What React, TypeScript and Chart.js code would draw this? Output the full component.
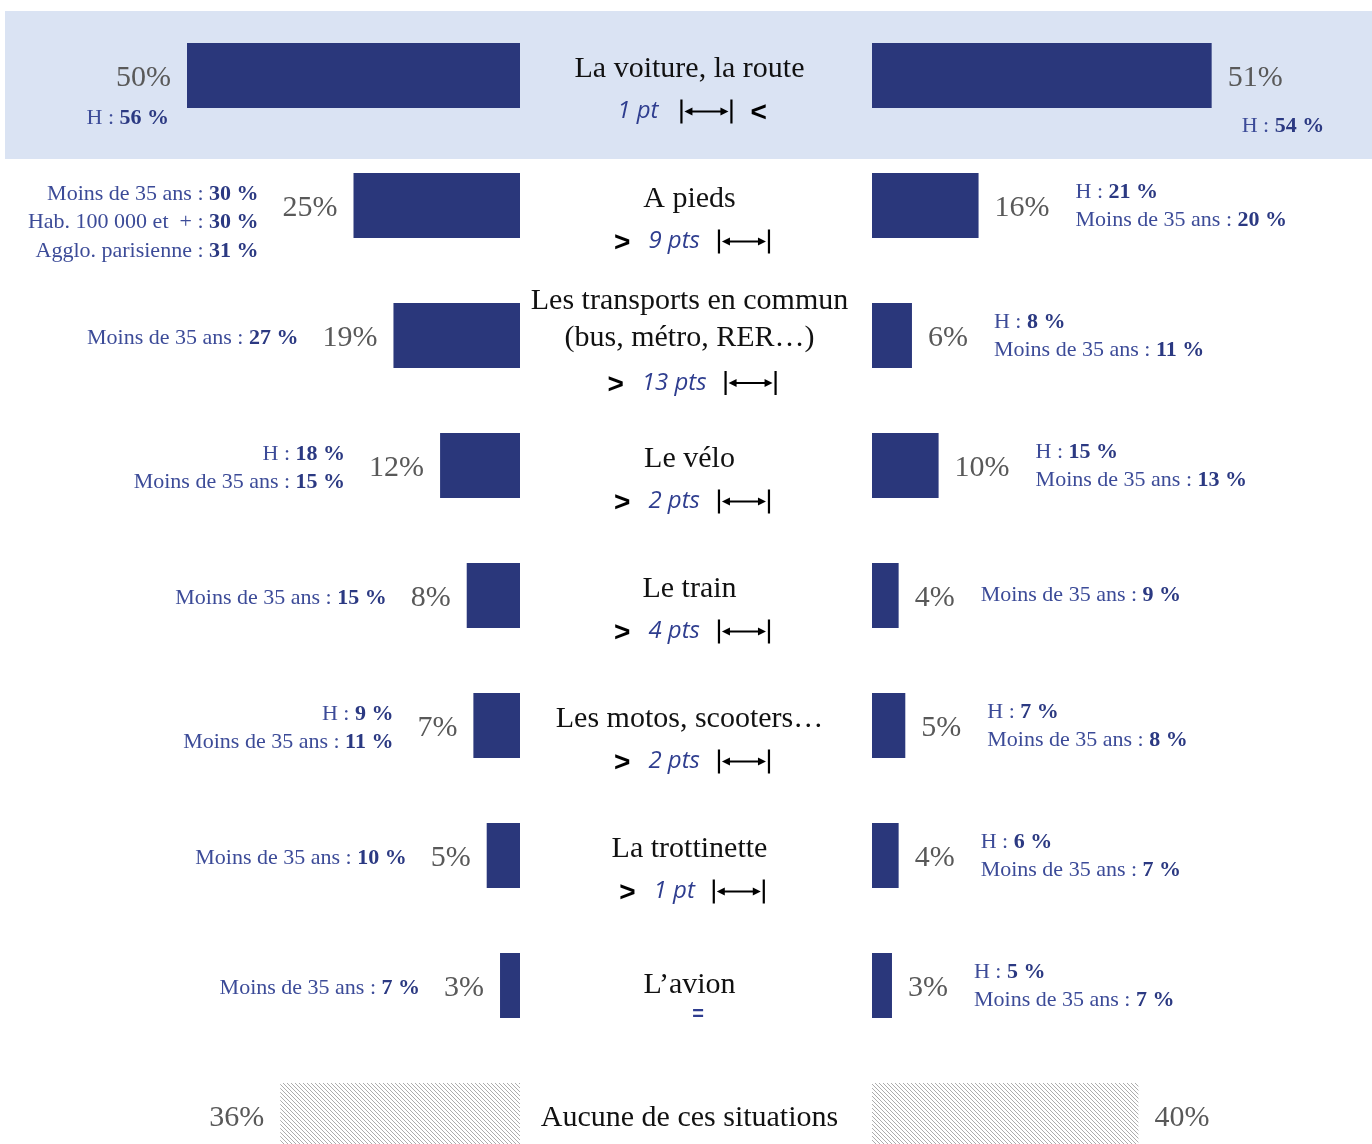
import React, { useEffect, useRef } from "react";
import { Chart, registerables } from "chart.js";

Chart.register(...registerables);

// ---------------- DATA ----------------
const categories = [
  "La voiture, la route",
  "A pieds",
  "Les transports en commun\n(bus, métro, RER…)",
  "Le vélo",
  "Le train",
  "Les motos, scooters…",
  "La trottinette",
  "L’avion",
  "Aucune de ces situations",
];
const leftValues = [50, 25, 19, 12, 8, 7, 5, 3, 36];
const rightValues = [51, 16, 6, 10, 4, 5, 4, 3, 40];
const deltaSigns = ["<", ">", ">", ">", ">", ">", ">", "=", ""];
const deltaPoints: (number | null)[] = [1, 9, 13, 2, 4, 2, 1, null, null];

type Note = [string, number];
const leftNotes: Note[][] = [
  [["H", 56]],
  [["Moins de 35 ans", 30], ["Hab. 100 000 et  +", 30], ["Agglo. parisienne", 31]],
  [["Moins de 35 ans", 27]],
  [["H", 18], ["Moins de 35 ans", 15]],
  [["Moins de 35 ans", 15]],
  [["H", 9], ["Moins de 35 ans", 11]],
  [["Moins de 35 ans", 10]],
  [["Moins de 35 ans", 7]],
  [],
];
const rightNotes: Note[][] = [
  [["H", 54]],
  [["H", 21], ["Moins de 35 ans", 20]],
  [["H", 8], ["Moins de 35 ans", 11]],
  [["H", 15], ["Moins de 35 ans", 13]],
  [["Moins de 35 ans", 9]],
  [["H", 7], ["Moins de 35 ans", 8]],
  [["H", 6], ["Moins de 35 ans", 7]],
  [["H", 5], ["Moins de 35 ans", 7]],
  [],
];

// ---------------- LAYOUT / STYLE ----------------
const W = 1372;
const H = 1144;
const CANVAS_H = 1181;
const PX_PER_PT = 6.66;
const LEFT_BASE = 520;
const RIGHT_BASE = 872;
const TEXT_DY = 2.5;

const BAR_COLOR = "#2a377b";
const BAND_COLOR = "#dae3f3";
const VALUE_COLOR = "#595959";
const NOTE_COLOR = "#3c4b98";
const NOTE_BOLD_COLOR = "#2b3982";
const PTS_COLOR = "#2e3d8f";
const SERIF = '"Liberation Serif", "DejaVu Serif", serif';
const VALUE_FONT = `30px ${SERIF}`;
const CAT_FONT = `30px ${SERIF}`;
const NOTE_FONT = `22px ${SERIF}`;
const NOTE_BOLD_FONT = `bold 22px ${SERIF}`;
const PTS_FONT = 'italic 24px "Open Sans", "Noto Sans", sans-serif';
const SIGN_FONT = 'bold 28px "Liberation Sans", Arial, sans-serif';
const EQ_FONT = 'bold 20px "Liberation Sans", Arial, sans-serif';

function makeHatch(): CanvasPattern | string {
  const c = document.createElement("canvas");
  c.width = 4;
  c.height = 4;
  const g = c.getContext("2d");
  if (!g) return "#cccccc";
  g.fillStyle = "#ffffff";
  g.fillRect(0, 0, 4, 4);
  g.strokeStyle = "#a3a3a3";
  g.lineWidth = 0.9;
  g.beginPath();
  g.moveTo(-1, -1);
  g.lineTo(5, 5);
  g.moveTo(3, -1);
  g.lineTo(5, 1);
  g.moveTo(-1, 3);
  g.lineTo(1, 5);
  g.stroke();
  return g.createPattern(c, "repeat") || "#cccccc";
}

type Run = { text: string; bold: boolean };

function noteRuns(n: Note): Run[] {
  return [
    { text: `${n[0]} : `, bold: false },
    { text: `${n[1]} %`, bold: true },
  ];
}

function drawRuns(ctx: CanvasRenderingContext2D, runs: Run[], x: number, y: number, align: "left" | "right") {
  let total = 0;
  const widths = runs.map((r) => {
    ctx.font = r.bold ? NOTE_BOLD_FONT : NOTE_FONT;
    const w = ctx.measureText(r.text).width;
    total += w;
    return w;
  });
  let cx = align === "right" ? x - total : x;
  ctx.textAlign = "left";
  ctx.textBaseline = "middle";
  runs.forEach((r, k) => {
    ctx.font = r.bold ? NOTE_BOLD_FONT : NOTE_FONT;
    ctx.fillStyle = r.bold ? NOTE_BOLD_COLOR : NOTE_COLOR;
    ctx.fillText(r.text, cx, y + TEXT_DY);
    cx += widths[k];
  });
}

function drawSpan(ctx: CanvasRenderingContext2D, x: number, y: number, w: number) {
  ctx.save();
  ctx.strokeStyle = "#000";
  ctx.fillStyle = "#000";
  ctx.lineWidth = 2.2;
  ctx.beginPath();
  ctx.moveTo(x + 1, y - 12);
  ctx.lineTo(x + 1, y + 12);
  ctx.moveTo(x + w - 1, y - 12);
  ctx.lineTo(x + w - 1, y + 12);
  ctx.stroke();
  ctx.lineWidth = 1.8;
  ctx.beginPath();
  ctx.moveTo(x + 8, y);
  ctx.lineTo(x + w - 8, y);
  ctx.stroke();
  ctx.beginPath();
  ctx.moveTo(x + 4, y);
  ctx.lineTo(x + 12, y - 4);
  ctx.lineTo(x + 12, y + 4);
  ctx.closePath();
  ctx.moveTo(x + w - 4, y);
  ctx.lineTo(x + w - 12, y - 4);
  ctx.lineTo(x + w - 12, y + 4);
  ctx.closePath();
  ctx.fill();
  ctx.restore();
}

const textPlugin = {
  id: "butterflyText",
  beforeDatasetsDraw(chart: any) {
    const ctx: CanvasRenderingContext2D = chart.ctx;
    const c0 = chart.scales.y.getPixelForValue(0);
    ctx.save();
    ctx.fillStyle = BAND_COLOR;
    ctx.fillRect(5, c0 - 64.5, W - 5, 148);
    ctx.restore();
  },
  afterDatasetsDraw(chart: any) {
    const ctx: CanvasRenderingContext2D = chart.ctx;
    const metaL = chart.getDatasetMeta(0);
    const metaR = chart.getDatasetMeta(1);
    const mid = (chart.scales.xL.getPixelForValue(0) + chart.scales.xR.getPixelForValue(0)) / 2 - 6.5;
    ctx.save();
    categories.forEach((cat, i) => {
      const bl: any = metaL.data[i];
      const br: any = metaR.data[i];
      const cy = bl.y;

      // value labels
      ctx.font = VALUE_FONT;
      ctx.fillStyle = VALUE_COLOR;
      ctx.textBaseline = "middle";
      const lText = `${leftValues[i]}%`;
      const rText = `${rightValues[i]}%`;
      const lx = bl.x - 16;
      const rx = br.x + 16;
      ctx.textAlign = "right";
      ctx.fillText(lText, lx, cy + TEXT_DY);
      const lw = ctx.measureText(lText).width;
      ctx.textAlign = "left";
      ctx.fillText(rText, rx, cy + TEXT_DY);
      const rw = ctx.measureText(rText).width;

      // notes
      const ln = leftNotes[i];
      const rn = rightNotes[i];
      if (i === 0) {
        if (ln[0]) drawRuns(ctx, noteRuns(ln[0]), lx - 2, cy + 40.5, "right");
        if (rn[0]) drawRuns(ctx, noteRuns(rn[0]), rx + 14, cy + 48.5, "left");
      } else {
        const l0 = ln.length > 1 ? cy - 14 : cy;
        ln.forEach((n, k) => drawRuns(ctx, noteRuns(n), lx - lw - 24, l0 + k * 28.5, "right"));
        const r0 = rn.length > 1 ? cy - 16 : cy - 3;
        rn.forEach((n, k) => drawRuns(ctx, noteRuns(n), rx + rw + 26, r0 + k * 28.5, "left"));
      }

      // category name
      const lines = cat.split("\n");
      const sign = deltaSigns[i];
      const pts = deltaPoints[i];
      ctx.font = CAT_FONT;
      ctx.fillStyle = "#111";
      ctx.textAlign = "center";
      ctx.textBaseline = "middle";
      let deltaY = cy + 36;
      if (lines.length > 1) {
        ctx.fillText(lines[0], mid, cy - 36.5 + TEXT_DY);
        ctx.fillText(lines[1], mid, cy + 0.5 + TEXT_DY);
        deltaY = cy + 47.5;
      } else {
        const ny = pts !== null ? cy - 9 : sign === "=" ? cy - 2.5 : cy + 0.5;
        ctx.fillText(lines[0], mid, ny + TEXT_DY);
      }

      // delta line
      if (sign === "=") {
        ctx.font = EQ_FONT;
        ctx.fillStyle = PTS_COLOR;
        ctx.fillText("=", mid + 8.5, cy + 28.5);
      } else if (pts !== null) {
        const ptsText = pts === 1 ? `${pts} pt` : `${pts} pts`;
        ctx.font = PTS_FONT;
        const pw = ctx.measureText(ptsText).width;
        ctx.font = SIGN_FONT;
        const sw = ctx.measureText(sign).width;
        const spanW = 52;
        const signFirst = sign === ">";
        const total = signFirst ? sw + 18 + pw + 18 + spanW : pw + 22 + spanW + 18 + sw;
        let x = mid + 2.5 - total / 2;
        ctx.textAlign = "left";
        ctx.textBaseline = "middle";
        const drawSign = () => {
          ctx.font = SIGN_FONT;
          ctx.fillStyle = "#000";
          ctx.fillText(sign, x, deltaY + 2);
          x += sw;
        };
        const drawPts = () => {
          ctx.font = PTS_FONT;
          ctx.fillStyle = PTS_COLOR;
          ctx.fillText(ptsText, x, deltaY);
          x += pw;
        };
        if (signFirst) {
          drawSign();
          x += 18;
          drawPts();
          x += 18;
          drawSpan(ctx, x, deltaY, spanW);
        } else {
          drawPts();
          x += 22;
          drawSpan(ctx, x, deltaY, spanW);
          x += spanW + 18;
          drawSign();
        }
      }
    });
    ctx.restore();
  },
};

export default function App() {
  const ref = useRef<HTMLCanvasElement | null>(null);

  useEffect(() => {
    if (!ref.current) return;
    const hatch = makeHatch();
    const colors = categories.map((_, i) => (i === categories.length - 1 ? hatch : BAR_COLOR));
    const chart = new Chart(ref.current, {
      type: "bar",
      data: {
        labels: categories,
        datasets: [
          {
            label: "gauche",
            data: leftValues,
            xAxisID: "xL",
            yAxisID: "y",
            backgroundColor: colors as any,
            borderWidth: 0,
            grouped: false,
            barPercentage: 0.5,
            categoryPercentage: 1,
          } as any,
          {
            label: "droite",
            data: rightValues,
            xAxisID: "xR",
            yAxisID: "y",
            backgroundColor: colors as any,
            borderWidth: 0,
            grouped: false,
            barPercentage: 0.5,
            categoryPercentage: 1,
          } as any,
        ],
      },
      options: {
        indexAxis: "y",
        responsive: false,
        animation: false,
        events: [],
        devicePixelRatio: 1,
        layout: { padding: { top: 10.5, bottom: 0.5, left: 0, right: 0 } },
        plugins: { legend: { display: false }, tooltip: { enabled: false } },
        scales: {
          y: { type: "category", display: false, offset: true, grid: { display: false } },
          xL: {
            type: "linear",
            display: false,
            reverse: true,
            bounds: "data",
            min: -(W - LEFT_BASE) / PX_PER_PT,
            max: LEFT_BASE / PX_PER_PT,
          },
          xR: {
            type: "linear",
            display: false,
            bounds: "data",
            min: -RIGHT_BASE / PX_PER_PT,
            max: (W - RIGHT_BASE) / PX_PER_PT,
          },
        } as any,
      },
      plugins: [textPlugin as any],
    });
    return () => chart.destroy();
  }, []);

  return (
    <div
      style={{
        position: "absolute",
        left: 0,
        top: 0,
        width: W,
        height: H,
        overflow: "hidden",
        background: "#ffffff",
      }}
    >
      <canvas ref={ref} width={W} height={CANVAS_H} style={{ display: "block", width: W, height: CANVAS_H }} />
    </div>
  );
}
